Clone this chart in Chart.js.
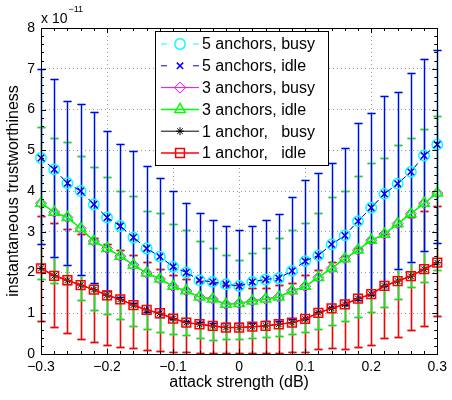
<!DOCTYPE html>
<html>
<head>
<meta charset="utf-8">
<script src="https://cdn.jsdelivr.net/npm/chart.js@4.4.1/dist/chart.umd.min.js"></script>
<style>
  html, body { margin: 0; padding: 0; background: #fff; }
  #wrap { width: 452px; height: 400px; }
</style>
</head>
<body>
<div id="wrap"><canvas id="chart" width="452" height="400"></canvas></div>
<script>
// x axis: attack strength (dB)
const attackStrength = [-0.30, -0.28, -0.26, -0.24, -0.22, -0.20, -0.18, -0.16, -0.14, -0.12, -0.10,
  -0.08, -0.06, -0.04, -0.02, 0.00, 0.02, 0.04, 0.06, 0.08, 0.10,
  0.12, 0.14, 0.16, 0.18, 0.20, 0.22, 0.24, 0.26, 0.28, 0.30];

// mean trustworthiness, in units of 1e-11
const fiveBusy = [4.81, 4.53, 4.19, 4.00, 3.67, 3.35, 3.14, 2.86, 2.59, 2.39, 2.14, 2.00, 1.81, 1.77, 1.71, 1.67,
  1.77, 1.83, 1.86, 2.04, 2.28, 2.42, 2.69, 2.91, 3.26, 3.59, 3.93, 4.18, 4.47, 4.87, 5.14];
const fiveIdle = [4.81, 4.53, 4.19, 4.00, 3.67, 3.35, 3.14, 2.86, 2.59, 2.39, 2.14, 2.00, 1.81, 1.77, 1.71, 1.67,
  1.77, 1.83, 1.86, 2.04, 2.28, 2.42, 2.69, 2.91, 3.26, 3.59, 3.93, 4.18, 4.47, 4.87, 5.14];
const threeBusy = [3.70, 3.48, 3.35, 3.08, 2.77, 2.59, 2.40, 2.18, 1.99, 1.84, 1.66, 1.55, 1.40, 1.35, 1.22, 1.24,
  1.30, 1.35, 1.40, 1.55, 1.66, 1.88, 2.10, 2.34, 2.55, 2.79, 2.94, 3.20, 3.44, 3.70, 3.95];
const threeIdle = [3.70, 3.48, 3.35, 3.08, 2.77, 2.59, 2.40, 2.18, 1.99, 1.84, 1.66, 1.55, 1.40, 1.35, 1.22, 1.24,
  1.30, 1.35, 1.40, 1.55, 1.66, 1.88, 2.10, 2.34, 2.55, 2.79, 2.94, 3.20, 3.44, 3.70, 3.95];
const oneBusy = [2.10, 1.92, 1.81, 1.69, 1.58, 1.44, 1.34, 1.20, 1.08, 1.00, 0.87, 0.77, 0.73, 0.69, 0.65, 0.65,
  0.67, 0.69, 0.73, 0.77, 0.86, 1.01, 1.12, 1.22, 1.36, 1.47, 1.67, 1.79, 1.91, 2.08, 2.24];
const oneIdle = [2.10, 1.92, 1.81, 1.69, 1.58, 1.44, 1.34, 1.20, 1.08, 1.00, 0.87, 0.77, 0.73, 0.69, 0.65, 0.65,
  0.67, 0.69, 0.73, 0.77, 0.86, 1.01, 1.12, 1.22, 1.36, 1.47, 1.67, 1.79, 1.91, 2.08, 2.24];

// error bar ends (lower / upper), same units
const fiveLow = [2.70, 2.37, 2.19, 1.93, 1.75, 1.55, 1.40, 1.25, 1.04, 0.92, 0.85, 0.80, 0.78, 0.77, 0.77, 0.77,
  0.77, 0.80, 0.82, 0.85, 0.87, 1.04, 1.16, 1.20, 1.32, 1.45, 1.67, 2.08, 2.26, 2.52, 2.72];
const fiveHigh = [6.99, 6.74, 6.21, 6.14, 5.94, 5.48, 5.16, 4.97, 4.61, 4.32, 4.01, 3.71, 3.46, 3.28, 3.13, 3.04,
  3.13, 3.30, 3.44, 3.85, 4.27, 4.44, 4.68, 5.05, 5.66, 5.91, 6.34, 6.42, 6.89, 7.23, 7.47];
const threeLow = [1.84, 1.75, 1.72, 1.32, 1.09, 0.98, 0.87, 0.69, 0.61, 0.55, 0.50, 0.47, 0.40, 0.34, 0.36, 0.38,
  0.40, 0.42, 0.45, 0.50, 0.55, 0.62, 0.70, 0.80, 0.91, 1.04, 1.16, 1.35, 1.65, 1.77, 2.05];
const threeHigh = [5.56, 5.30, 5.20, 4.86, 4.59, 4.35, 4.01, 3.87, 3.52, 3.45, 3.18, 3.04, 2.77, 2.59, 2.42, 2.30,
  2.49, 2.60, 2.85, 3.04, 3.21, 3.46, 3.85, 4.00, 4.37, 4.68, 4.80, 5.12, 5.30, 5.53, 5.83];
const oneLow = [0.82, 0.67, 0.51, 0.37, 0.30, 0.22, 0.16, 0.14, 0.10, 0.07, 0.05, 0.04, 0.03, 0.03, 0.02, 0.02,
  0.02, 0.02, 0.03, 0.04, 0.05, 0.13, 0.14, 0.13, 0.18, 0.22, 0.40, 0.42, 0.59, 0.69, 0.93];
const oneHigh = [3.39, 3.21, 3.06, 2.95, 2.85, 2.69, 2.55, 2.42, 2.26, 2.08, 1.95, 1.85, 1.80, 1.75, 1.70, 1.70,
  1.62, 1.62, 1.70, 1.75, 1.95, 2.05, 2.25, 2.40, 2.60, 2.75, 2.95, 3.15, 3.35, 3.50, 3.62];

const seriesLabels = ['5 anchors, busy', '5 anchors, idle', '3 anchors, busy', '3 anchors, idle',
  '1 anchor,   busy', '1 anchor,   idle'];

const FONT = "'Liberation Sans', Arial, Helvetica, sans-serif";

function points(values) {
  return attackStrength.map((a, i) => ({ x: a, y: values[i] }));
}

// error bars drawn under the lines, red first then green then blue
const errorGroups = [
  { low: oneLow, high: oneHigh, shade: '#c04848', color: '#ff0000' },
  { low: threeLow, high: threeHigh, shade: '#78b878', color: '#00ee00' },
  { low: fiveLow, high: fiveHigh, shade: '#4a86ec', color: '#0000ff' }
];

const errorBarPlugin = {
  id: 'errorBars',
  beforeDatasetsDraw(chart) {
    const { ctx, scales: { x, y } } = chart;
    errorGroups.forEach(g => {
      [[g.shade, 1.8], [g.color, 1]].forEach(([color, width]) => {
        ctx.save();
        ctx.strokeStyle = color;
        ctx.lineWidth = width;
        ctx.beginPath();
        attackStrength.forEach((a, i) => {
          const px = Math.round(x.getPixelForValue(a)) + 0.5;
          const top = Math.round(y.getPixelForValue(g.high[i])) + 0.5;
          const bot = Math.round(y.getPixelForValue(g.low[i])) + 0.5;
          ctx.moveTo(px, top); ctx.lineTo(px, bot);
          ctx.moveTo(px - 4, top); ctx.lineTo(px + 4, top);
          ctx.moveTo(px - 4, bot); ctx.lineTo(px + 4, bot);
        });
        ctx.stroke();
        ctx.restore();
      });
    });
  }
};

// MATLAB style box with inward major and minor ticks
const axesBoxPlugin = {
  id: 'axesBox',
  afterDatasetsDraw(chart) {
    const { ctx, chartArea: ca, scales: { x, y } } = chart;
    ctx.save();
    ctx.strokeStyle = '#000';
    ctx.lineWidth = 1;
    ctx.beginPath();
    for (let k = 0; k <= 30; k++) {
      const v = x.min + (x.max - x.min) * k / 30;
      const px = Math.round(x.getPixelForValue(v)) + 0.5;
      const len = k % 5 === 0 ? 5 : 3;
      ctx.moveTo(px, ca.bottom); ctx.lineTo(px, ca.bottom - len);
      ctx.moveTo(px, ca.top); ctx.lineTo(px, ca.top + len);
    }
    for (let k = 0; k <= 40; k++) {
      const v = y.min + (y.max - y.min) * k / 40;
      const py = Math.round(y.getPixelForValue(v)) + 0.5;
      const len = k % 5 === 0 ? 5 : 3;
      ctx.moveTo(ca.left, py); ctx.lineTo(ca.left + len, py);
      ctx.moveTo(ca.right, py); ctx.lineTo(ca.right - len, py);
    }
    ctx.stroke();
    ctx.strokeRect(Math.round(ca.left) + 0.5, Math.round(ca.top) + 0.5,
      Math.round(ca.right - ca.left), Math.round(ca.bottom - ca.top));

    // exponent label above the y axis
    ctx.fillStyle = '#000';
    ctx.textBaseline = 'alphabetic';
    ctx.font = '14px ' + FONT;
    ctx.fillText('x 10', ca.left, 23);
    const w = ctx.measureText('x 10').width;
    ctx.font = '9px ' + FONT;
    ctx.fillText('\u221211', ca.left + w + 1, 12);
    ctx.restore();
  }
};

// legend box inside the plot, line sample + marker + label
const boxLegendPlugin = {
  id: 'boxLegend',
  afterDraw(chart) {
    const { ctx } = chart;
    const box = { x: 155.5, y: 31.5, w: 173, h: 134 };
    ctx.save();
    ctx.fillStyle = '#fff';
    ctx.fillRect(box.x, box.y, box.w, box.h);
    ctx.strokeStyle = '#000';
    ctx.lineWidth = 1;
    ctx.strokeRect(box.x, box.y, box.w, box.h);
    chart.data.datasets.forEach((ds, i) => {
      const cy = 44 + i * 21.8;
      ctx.strokeStyle = ds.borderColor;
      ctx.lineWidth = ds.borderWidth;
      ctx.setLineDash(ds.borderDash && ds.borderDash.length ? [6, 26] : []);
      ctx.beginPath();
      ctx.moveTo(161, cy); ctx.lineTo(199, cy);
      ctx.stroke();
      ctx.setLineDash([]);
      ctx.strokeStyle = ds.pointBorderColor;
      ctx.fillStyle = 'rgba(0,0,0,0)';
      ctx.lineWidth = ds.pointBorderWidth;
      Chart.helpers.drawPoint(ctx, {
        pointStyle: ds.pointStyle, radius: ds.pointRadius, rotation: 0,
        borderWidth: ds.pointBorderWidth
      }, 180, cy);
      ctx.fillStyle = '#000';
      ctx.font = '16px ' + FONT;
      ctx.textBaseline = 'middle';
      ctx.fillText(ds.label, 202, cy + 1);
    });
    ctx.restore();
  }
};

function series(label, values, color, style, radius, opts) {
  return Object.assign({
    label: label,
    data: points(values),
    borderColor: color,
    borderWidth: 1,
    borderDash: [],
    pointStyle: style,
    pointRadius: radius,
    pointBorderColor: color,
    pointBackgroundColor: 'rgba(0,0,0,0)',
    pointBorderWidth: 1.5,
    tension: 0,
    clip: false
  }, opts);
}

const datasets = [
  series(seriesLabels[0], fiveBusy, '#00ffff', 'circle', 5.2, { borderDash: [5, 4], order: 1 }),
  series(seriesLabels[1], fiveIdle, '#0000ff', 'crossRot', 4.5, { borderDash: [5, 4], order: 0 }),
  series(seriesLabels[2], threeBusy, '#ff00ff', 'rectRot', 5.5, { pointBorderWidth: 1, order: 3 }),
  series(seriesLabels[3], threeIdle, '#00ff00', 'triangle', 6, { borderWidth: 1.5, order: 2 }),
  series(seriesLabels[4], oneBusy, '#000000', 'star', 4, { pointBorderWidth: 1, order: 5 }),
  series(seriesLabels[5], oneIdle, '#ff0000', 'rect', 6.2, { borderWidth: 1.5, order: 4 })
];

function formatTick(value) {
  if (Math.abs(value) < 1e-9) return '0';
  return (value < 0 ? '\u2212' : '') + Math.abs(value).toFixed(1);
}

new Chart(document.getElementById('chart'), {
  type: 'line',
  data: { datasets: datasets },
  options: {
    responsive: false,
    animation: false,
    devicePixelRatio: 1,
    layout: { padding: { left: 0, right: 9, top: 28, bottom: 5 } },
    plugins: { legend: { display: false }, tooltip: { enabled: false } },
    scales: {
      x: {
        type: 'linear',
        min: -0.3,
        max: 0.3,
        afterFit: s => { s.height = 41; },
        ticks: {
          stepSize: 0.1, padding: 5, maxRotation: 0, autoSkip: false,
          color: '#000', font: { family: FONT, size: 14 },
          callback: formatTick
        },
        grid: { color: '#9a9a9a', lineWidth: 1, drawTicks: false },
        border: { display: false, dash: [1, 3] },
        title: {
          display: true, text: 'attack strength (dB)', color: '#000',
          font: { family: FONT, size: 16 }, padding: { top: 0, bottom: 3 }
        }
      },
      y: {
        type: 'linear',
        min: 0,
        max: 8,
        afterFit: s => { s.width = 41; },
        ticks: {
          stepSize: 1, padding: 6,
          color: '#000', font: { family: FONT, size: 14 }
        },
        grid: { color: '#9a9a9a', lineWidth: 1, drawTicks: false },
        border: { display: false, dash: [1, 3] },
        title: {
          display: true, text: 'instantaneous trustworthiness', color: '#000',
          font: { family: FONT, size: 16 }, padding: { top: 4, bottom: 0 }
        }
      }
    }
  },
  plugins: [errorBarPlugin, axesBoxPlugin, boxLegendPlugin]
});
</script>
</body>
</html>
